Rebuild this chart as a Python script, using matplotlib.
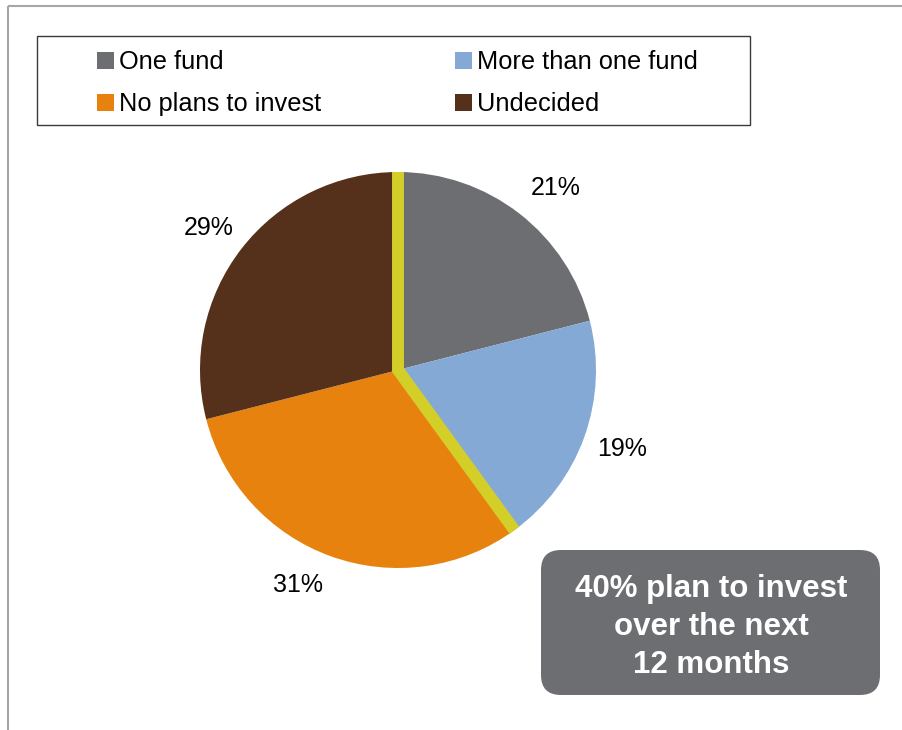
import numpy as np
import matplotlib.pyplot as plt
from matplotlib.patches import Rectangle, FancyBboxPatch

plt.rcParams['font.family'] = ['Liberation Sans', 'DejaVu Sans']

W, H = 903, 730

categories = ['One fund', 'More than one fund', 'No plans to invest', 'Undecided']
shares = [21, 19, 31, 29]
colors = ['#6D6E71', '#85A9D5', '#E8820E', '#55301A']
highlight = '#D3CE28'
callout = ['40% plan to invest', 'over the next', '12 months']

# nudges (px, y downward) for the percentage labels, best-fit style
label_nudge = [(12, 6), (1, -1), (-20, -9), (-2, 4)]

fig = plt.figure(figsize=(W / 100, H / 100), dpi=100)

# full-figure overlay in pixel units for frame, legend and callout box
ov = fig.add_axes([0, 0, 1, 1])
ov.set_xlim(0, W)
ov.set_ylim(H, 0)
ov.axis('off')

ov.plot([8, W], [6, 6], color='#A6A6A6', lw=1.5, solid_capstyle='butt')
ov.plot([8, 8], [6, H], color='#A6A6A6', lw=1.5, solid_capstyle='butt')

# legend
ov.add_patch(Rectangle((37, 36), 713, 89, fill=False, edgecolor='#3A3A3A', lw=1))
col_x = [97, 455]
row_y = [60, 102]
for i, (lab, c) in enumerate(zip(categories, colors)):
    x = col_x[i % 2]
    y = row_y[i // 2]
    ov.add_patch(Rectangle((x, y - 8.5), 17, 17, facecolor=c, edgecolor='none'))
    ov.text(x + 22, y + 2, lab, fontsize=18.3, va='center', ha='left', color='black')

# callout box
ov.add_patch(FancyBboxPatch((541 + 20, 550 + 20), 339 - 40, 145 - 40,
                            boxstyle='round,pad=20,rounding_size=20',
                            facecolor='#6D6E71', edgecolor='none'))
ov.text(711, 627, '\n'.join(callout), fontsize=22.5, fontweight='bold',
        color='white', ha='center', va='center', linespacing=1.33)

# pie
cx, cy, r = 398, 370, 198
ax = fig.add_axes([(cx - r) / W, (H - cy - r) / H, 2 * r / W, 2 * r / H])
wedges, texts, autotexts = ax.pie(
    shares, colors=colors, startangle=90, counterclock=False,
    autopct='%d%%', pctdistance=1.2,
    wedgeprops=dict(linewidth=0),
    textprops=dict(fontsize=18, color='black'))
ax.set_xlim(-1, 1)
ax.set_ylim(-1, 1)
ax.set_aspect('equal')

for t, (dx, dy) in zip(autotexts, label_nudge):
    px, py = t.get_position()
    t.set_position((px + dx / r, py - dy / r))

# yellow divider around the share that plans to invest
split = sum(shares[:2]) / sum(shares)
ang = np.deg2rad(90 - 360 * split)
ax.plot([0, 0, np.cos(ang)], [1, 0, np.sin(ang)], color=highlight, lw=8.6,
        solid_capstyle='butt', solid_joinstyle='miter', zorder=5)

fig.savefig('out.png', dpi=100)
